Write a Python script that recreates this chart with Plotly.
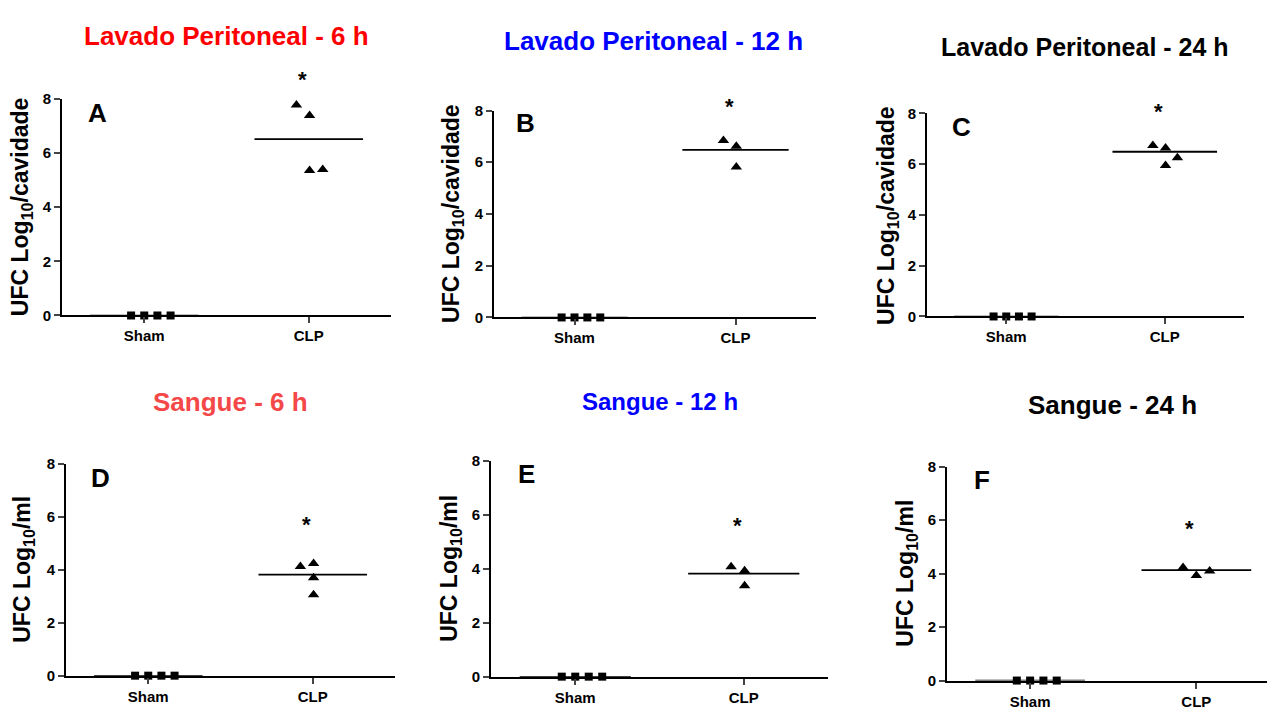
import plotly.graph_objects as go

W, H = 1267, 711

categories = ["Sham", "CLP"]
panel_letters = ["A", "B", "C", "D", "E", "F"]
panel_titles = ["Lavado Peritoneal - 6 h", "Lavado Peritoneal - 12 h", "Lavado Peritoneal - 24 h",
                "Sangue - 6 h", "Sangue - 12 h", "Sangue - 24 h"]
title_colors = ["#FF0000", "#0000FF", "#000000", "#F44848", "#0000FF", "#000000"]
y_titles = ["UFC Log<sub>10</sub>/cavidade"] * 3 + ["UFC Log<sub>10</sub>/ml"] * 3
y_ticks = [0, 2, 4, 6, 8]

# values
sham_values = [
    [0, 0, 0, 0], [0, 0, 0, 0], [0, 0, 0, 0],
    [0, 0, 0, 0], [0, 0, 0, 0], [0, 0, 0, 0],
]
clp_values = [
    [7.77, 7.38, 5.35, 5.39],
    [6.84, 6.62, 5.82],
    [6.74, 6.64, 6.25, 5.95],
    [4.12, 4.24, 3.70, 3.06],
    [4.08, 3.93, 3.37],
    [4.23, 3.93, 4.10],
]
sham_means = [0, 0, 0, 0, 0, 0]
clp_means = [6.51, 6.48, 6.49, 3.82, 3.82, 4.13]
star_values = [8.9, 8.34, 8.28, 5.9, 5.78, 5.89]

# horizontal scatter offsets (category units), as drawn by the original software
sham_jitter = [-0.08, 0.0, 0.08, 0.16]
clp_jitter = [
    [-0.075, 0.005, 0.005, 0.085],
    [-0.075, 0.005, 0.005],
    [-0.075, 0.005, 0.08, 0.005],
    [-0.075, 0.005, 0.005, 0.005],
    [-0.075, 0.005, 0.005],
    [-0.08, 0.0, 0.08],
]

# layout geometry (pixels): axis left, right, top (y=8), bottom (y=0)
boxes = [
    (62, 391, 92, 314),
    (494, 816, 104, 316),
    (927, 1244, 107, 315),
    (66, 395, 466, 683),
    (491, 828, 463, 684),
    (947, 1267, 469, 688),
]
x_ranges = [[0.5, 2.5]] * 5 + [[0.5, 2.425]]
title_pos = [(226, 28), (653, 33), (1085, 39), (230, 403), (660, 402), (1112, 406)]
title_sizes = [26, 26, 25, 26, 24, 26]
letter_pos = [(97, 107), (525, 117), (961, 121), (100, 480), (526, 476), (982, 483)]
ytitle_x = [21, 453, 888, 24, 451, 907]

FONT = "Liberation Sans, Arial, sans-serif"

fig = go.Figure()
layout = dict(
    width=W, height=H, margin=dict(l=0, r=0, t=0, b=0),
    paper_bgcolor="white", plot_bgcolor="white", showlegend=False,
    font=dict(family=FONT, color="black"),
)
annotations = []

for i in range(6):
    n = i + 1
    xa = "x" if n == 1 else f"x{n}"
    ya = "y" if n == 1 else f"y{n}"
    L, R, T, B = boxes[i]
    layout[f"xaxis{'' if n == 1 else n}"] = dict(
        domain=[L / W, R / W], range=x_ranges[i], anchor=ya,
        tickvals=[1, 2], ticktext=categories, ticks="outside", ticklen=6, tickwidth=2,
        showline=True, linewidth=2, linecolor="black", showgrid=False, zeroline=False,
        tickfont=dict(family=FONT, size=15, color="black", weight="bold"),
        fixedrange=True,
    )
    layout[f"yaxis{'' if n == 1 else n}"] = dict(
        domain=[1 - B / H, 1 - T / H], range=[0, 8], anchor=xa,
        tickvals=y_ticks, ticks="outside", ticklen=6, tickwidth=2,
        showline=True, linewidth=2, linecolor="black", showgrid=False, zeroline=False,
        tickfont=dict(family=FONT, size=15, color="black", weight="bold"),
        fixedrange=True,
    )
    fig.add_trace(go.Scatter(x=[1 - 0.33, 1 + 0.33], y=[sham_means[i]] * 2, mode="lines",
                             line=dict(color="black", width=1.5), xaxis=xa, yaxis=ya,
                             cliponaxis=False, hoverinfo="skip"))
    fig.add_trace(go.Scatter(x=[2 - 0.33, 2 + 0.33], y=[clp_means[i]] * 2, mode="lines",
                             line=dict(color="black", width=1.8), xaxis=xa, yaxis=ya,
                             cliponaxis=False, hoverinfo="skip"))
    fig.add_trace(go.Scatter(x=[1 + d for d in sham_jitter], y=sham_values[i], mode="markers",
                             marker=dict(symbol="square", size=8, color="black"),
                             xaxis=xa, yaxis=ya, cliponaxis=False))
    fig.add_trace(go.Scatter(x=[2 + d for d in clp_jitter[i]], y=clp_values[i], mode="markers",
                             marker=dict(symbol="triangle-up", size=10, color="black"),
                             xaxis=xa, yaxis=ya, cliponaxis=False))
    # significance star (axis-domain reference so it may sit above the range)
    xr = x_ranges[i]
    annotations.append(dict(x=(2 - xr[0]) / (xr[1] - xr[0]), y=star_values[i] / 8,
                            xref=f"{xa} domain", yref=f"{ya} domain", text="*", showarrow=False,
                            yanchor="middle", yshift=-5,
                            font=dict(family=FONT, size=22, color="black", weight="bold")))
    tx, ty = title_pos[i]
    annotations.append(dict(x=tx / W, y=1 - ty / H, xref="paper", yref="paper", text=panel_titles[i],
                            showarrow=False, xanchor="center", yanchor="middle",
                            font=dict(family=FONT, size=title_sizes[i], color=title_colors[i], weight="bold")))
    lx, ly = letter_pos[i]
    annotations.append(dict(x=lx / W, y=1 - ly / H, xref="paper", yref="paper", text=panel_letters[i],
                            showarrow=False, xanchor="center", yanchor="middle",
                            font=dict(family=FONT, size=26, color="black", weight="bold")))
    annotations.append(dict(x=ytitle_x[i] / W, y=1 - (T + B) / 2 / H, xref="paper", yref="paper",
                            text=y_titles[i], textangle=-90, showarrow=False,
                            xanchor="center", yanchor="middle",
                            font=dict(family=FONT, size=23, color="black", weight="bold")))

layout["annotations"] = annotations
fig.update_layout(**layout)
fig.write_html("out.html")
